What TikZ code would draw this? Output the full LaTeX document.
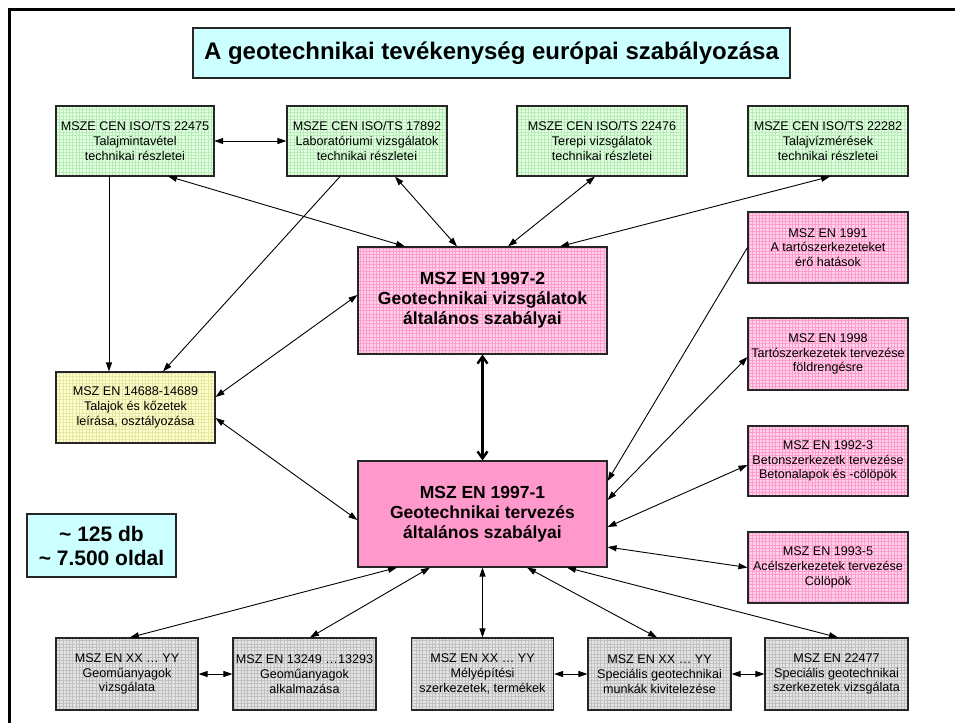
\documentclass[tikz,border=0pt]{standalone}
\usepackage{fontspec}
\setmainfont{Liberation Sans}
\usetikzlibrary{arrows.meta,patterns.meta}

\definecolor{titlecyan}{HTML}{CCFFFF}
\definecolor{greenbg}{HTML}{E2FFE2}
\definecolor{greengrid}{HTML}{B9EBB9}
\definecolor{yellowbg}{HTML}{FFFFCC}
\definecolor{yellowgrid}{HTML}{E6E6A6}
\definecolor{pinkbg}{HTML}{FFD2EA}
\definecolor{pinkgrid}{HTML}{FF9ACD}
\definecolor{pinksolid}{HTML}{FF99CC}
\definecolor{graybg}{HTML}{E4E4E4}
\definecolor{graygrid}{HTML}{C0C0C0}

\begin{document}
\begin{tikzpicture}[x=1pt, y=-1pt,
        box/.style={draw=black!85, line width=1.1pt, inner sep=0pt, align=center,
            font=\fontsize{12.6}{14.8}\selectfont},
        gridbox/.style 2 args={box, preaction={fill=#1},
            pattern={Hatch[distance=3.3pt, angle=0, line width=0.4pt]}, pattern color=#2},
        greenbox/.style={gridbox={greenbg}{greengrid}, minimum height=70pt},
        pinkbox/.style={gridbox={pinkbg}{pinkgrid}, minimum width=160pt, minimum height=71pt},
        graybox/.style={gridbox={graybg}{graygrid}, minimum width=143pt, minimum height=72pt},
        bigbox/.style={box, minimum width=249pt, minimum height=107pt,
            font=\fontsize{17.5}{20}\selectfont\bfseries},
        arr/.style={line width=0.9pt, -{Triangle[length=9pt, width=6pt]}},
        darr/.style={line width=0.9pt, {Triangle[length=9pt, width=6pt]}-{Triangle[length=9pt, width=6pt]}},
        thickarr/.style={line width=2.4pt, {Straight Barb[length=7pt, width=10pt]}-{Straight Barb[length=7pt, width=10pt]}}
    ]
    \useasboundingbox (0,0) rectangle (955,723);

    % Frame
    \draw[line width=3pt] (9.5,723) -- (9.5,9) -- (955,9);

    % Title
    \node[box, fill=titlecyan, minimum width=597pt, minimum height=50pt,
        font=\fontsize{24}{28}\selectfont\bfseries] (title) at (491.5,53)
        {A geotechnikai tevékenység európai szabályozása};

    % Green boxes
    \node[greenbox, minimum width=158pt] (mintavetel) at (135,141)
        {MSZE CEN ISO/TS 22475\\Talajmintavétel\\technikai részletei};
    \node[greenbox, minimum width=160pt] (labor) at (367,141)
        {MSZE CEN ISO/TS 17892\\Laboratóriumi vizsgálatok\\technikai részletei};
    \node[greenbox, minimum width=170pt] (terepi) at (602,141)
        {MSZE CEN ISO/TS 22476\\Terepi vizsgálatok\\technikai részletei};
    \node[greenbox, minimum width=160pt] (talajviz) at (828,141)
        {MSZE CEN ISO/TS 22282\\Talajvízmérések\\technikai részletei};

    % Yellow box
    \node[gridbox={yellowbg}{yellowgrid}, minimum width=159pt, minimum height=71pt] (osztaly) at (135.5,407.5)
        {MSZ EN 14688-14689\\Talajok és kőzetek\\leírása, osztályozása};

    % Main boxes
    \node[gridbox={pinkbg}{pinkgrid}, bigbox] (ec2) at (482.5,300.5)
        {MSZ EN 1997-2\\Geotechnikai vizsgálatok\\általános szabályai};
    \node[bigbox, fill=pinksolid, minimum height=106pt] (ec1) at (482.5,514)
        {MSZ EN 1997-1\\Geotechnikai tervezés\\általános szabályai};

    % Pink boxes on the right
    \node[pinkbox] (hatas) at (828,247.5)
        {MSZ EN 1991\\A tartószerkezeteket\\érő hatások};
    \node[pinkbox, minimum height=72pt] (foldrenges) at (828,354)
        {MSZ EN 1998\\Tartószerkezetek tervezése\\földrengésre};
    \node[pinkbox, minimum height=70pt] (beton) at (828,461)
        {MSZ EN 1992-3\\Betonszerkezetk tervezése\\Betonalapok és -cölöpök};
    \node[pinkbox] (acel) at (828,567.5)
        {MSZ EN 1993-5\\Acélszerkezetek tervezése\\Cölöpök};

    % Info box
    \node[box, fill=titlecyan, minimum width=149pt, minimum height=63pt,
        font=\fontsize{21}{24}\selectfont\bfseries] (info) at (101.5,545.5)
        {\textasciitilde{} 125 db\\\textasciitilde{} 7.500 oldal};

    % Gray boxes
    \node[graybox, minimum width=142pt] (geovizsg) at (127,674)
        {MSZ EN XX … YY\\Geoműanyagok\\vizsgálata};
    \node[graybox] (geoalk) at (304.5,674)
        {MSZ EN 13249 …13293\\Geoműanyagok\\alkalmazása};
    \node[graybox, minimum width=142pt] (melyep) at (482.5,674)
        {MSZ EN XX … YY\\Mélyépítési\\szerkezetek, termékek};
    \node[graybox] (kivit) at (659.5,674)
        {MSZ EN XX … YY\\Speciális geotechnikai\\munkák kivitelezése};
    \node[graybox] (specvizsg) at (836.5,674)
        {MSZ EN 22477\\Speciális geotechnikai\\szerkezetek vizsgálata};

    % Connectors of the green boxes
    \draw[darr] (mintavetel) -- (labor);
    \draw[arr] ([xshift=-26pt]mintavetel.south) coordinate (a) -- (a |- osztaly.north);
    \draw[arr] ([xshift=-27pt]labor.south) -- ([xshift=27.5pt]osztaly.north);
    \draw[darr] ([xshift=33pt]mintavetel.south) -- ([xshift=-77.5pt]ec2.north);
    \draw[darr] ([xshift=28pt]labor.south) -- ([xshift=-25.5pt]ec2.north);
    \draw[darr] ([xshift=-7pt]terepi.south) -- ([xshift=25.5pt]ec2.north);
    \draw[darr] ([xshift=2pt]talajviz.south) -- ([xshift=77.5pt]ec2.north);

    % Connectors of the yellow box
    \draw[darr] ([yshift=10.5pt]osztaly.east) -- ([yshift=5.5pt]ec2.west);
    \draw[darr] ([yshift=-10.5pt]osztaly.east) -- ([yshift=-6pt]ec1.west);

    % Between the main boxes
    \draw[thickarr] (ec2.south) -- (ec1.north);

    % Connectors of the pink boxes
    \draw[arr] (hatas.west) -- ([yshift=33pt]ec1.east);
    \draw[darr] ([yshift=-3pt]foldrenges.west) -- ([yshift=14pt]ec1.east);
    \draw[darr] ([yshift=-4pt]beton.west) -- ([yshift=-13pt]ec1.east);
    \draw[darr] (acel.west) -- ([yshift=-33pt]ec1.east);

    % Connectors of the gray boxes
    \draw[darr] ([xshift=3pt]geovizsg.north) -- ([xshift=-85.5pt]ec1.south);
    \draw[darr] ([xshift=5.5pt]geoalk.north) -- ([xshift=-52.5pt]ec1.south);
    \draw[darr] (melyep.north) -- (ec1.south);
    \draw[darr] ([xshift=-2.5pt]kivit.north) -- ([xshift=44.5pt]ec1.south);
    \draw[darr] ([xshift=1.5pt]specvizsg.north) -- ([xshift=84.5pt]ec1.south);
    \draw[darr] (geovizsg) -- (geoalk);
    \draw[darr] (melyep) -- (kivit);
    \draw[darr] (kivit) -- (specvizsg);

\end{tikzpicture}
\end{document}
